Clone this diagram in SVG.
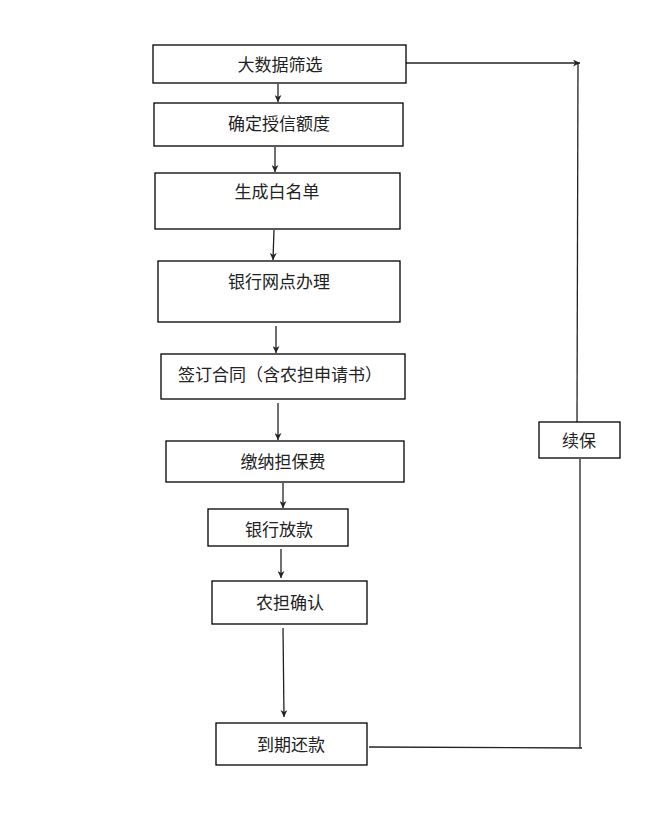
<svg xmlns="http://www.w3.org/2000/svg" width="656" height="820" viewBox="0 0 656 820">
<style>
.box{fill:#fff;stroke:#000;stroke-width:1.3}
.t{font-family:"Liberation Serif","Noto Sans CJK SC",serif;font-size:17px;fill:#222;text-anchor:middle;dominant-baseline:central}
.c{fill:none;stroke:#222;stroke-width:1.3}
</style>
<defs>
<marker id="ah" viewBox="0 0 10 10" refX="10" refY="5" markerWidth="7" markerHeight="7" markerUnits="userSpaceOnUse" orient="auto">
<path d="M0,0 L10,5 L0,10 L3,5 Z" fill="#222"/>
</marker>
</defs>
<rect width="656" height="820" fill="#fff"/>
<g id="connectors">
<path class="c" d="M278,84 L278,102" marker-end="url(#ah)"/>
<path class="c" d="M275,147 L275,172" marker-end="url(#ah)"/>
<path class="c" d="M274,230 L273,260" marker-end="url(#ah)"/>
<path class="c" d="M276,326 L276,353" marker-end="url(#ah)"/>
<path class="c" d="M278,403 L278,440" marker-end="url(#ah)"/>
<path class="c" d="M283,483 L283,508" marker-end="url(#ah)"/>
<path class="c" d="M281,549 L281,578" marker-end="url(#ah)"/>
<path class="c" d="M283,628 L284,717" marker-end="url(#ah)"/>
<path class="c" d="M369,747 L582,748"/>
<path class="c" d="M580,748 L580,459"/>
<path class="c" d="M577,422 L578,63"/>
<path class="c" d="M406,63 L580,63" marker-end="url(#ah)"/>
</g>
<g id="n1"><rect class="box" x="153" y="45" width="253" height="38"/><text class="t" x="280" y="65">大数据筛选</text></g>
<g id="n2"><rect class="box" x="154" y="103" width="249" height="43"/><text class="t" x="279" y="124">确定授信额度</text></g>
<g id="n3"><rect class="box" x="155" y="173" width="245" height="56"/><text class="t" x="277" y="192">生成白名单</text></g>
<g id="n4"><rect class="box" x="158" y="261" width="242" height="61"/><text class="t" x="279" y="282">银行网点办理</text></g>
<g id="n5"><rect class="box" x="161" y="354" width="244" height="45"/><text class="t" x="280" y="375">签订合同（含农担申请书）</text></g>
<g id="n6"><rect class="box" x="166" y="441" width="238" height="41"/><text class="t" x="283" y="462">缴纳担保费</text></g>
<g id="n7"><rect class="box" x="208" y="509" width="140" height="37"/><text class="t" x="279" y="530">银行放款</text></g>
<g id="n8"><rect class="box" x="212" y="581" width="155" height="43"/><text class="t" x="290" y="603">农担确认</text></g>
<g id="n9"><rect class="box" x="216" y="723" width="151" height="42"/><text class="t" x="291" y="745">到期还款</text></g>
<g id="n10"><rect class="box" x="539" y="422" width="81" height="36"/><text class="t" x="579" y="441">续保</text></g>
</svg>
